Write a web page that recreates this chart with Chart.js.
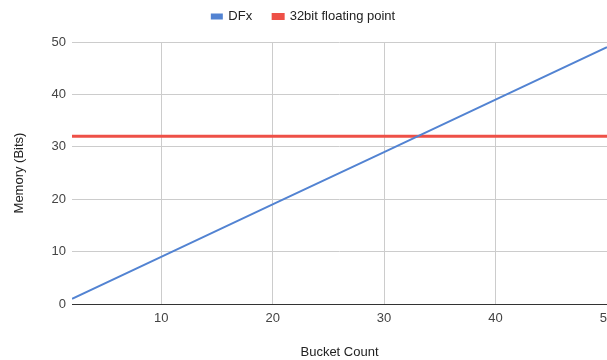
<!DOCTYPE html>
<html>
<head>
<meta charset="utf-8">
<script src="https://cdn.jsdelivr.net/npm/chart.js@4/dist/chart.umd.min.js"></script>
<style>
    html, body {margin: 0; padding: 0; background: #fff; overflow: hidden;}
    .chartContainer {width: 607px; height: 360px;}
</style>
</head>
<body>
<div class="chartContainer"><canvas id="chart"></canvas></div>
<script>
const bucketCounts = [2, 10, 20, 30, 40, 50];
const dfxMemory = [1, 9, 19, 29, 39, 49];
const floatMemory = [32, 32, 32, 32, 32, 32];
const xTicks = [10, 20, 30, 40, 50];
const yTicks = [0, 10, 20, 30, 40, 50];

const toPoints = (values) => bucketCounts.map((x, i) => ({x: x, y: values[i]}));

Chart.defaults.font.family = "'Liberation Sans', Arial, sans-serif";
Chart.defaults.font.size = 13;

// legend needs wide gaps between items but little room above them,
// so grow its box a bit after it measured itself
const legendSpace = {
    id: 'legendSpace',
    beforeLayout(chart) {
        const legend = chart.legend;
        if (!legend || legend._patched) return;
        const fit = legend.fit;
        legend.fit = function () {
            fit.call(this);
            this.height += 9;
        };
        legend._patched = true;
    },
};

const data = {
    datasets: [
        {
            label: 'DFx',
            data: toPoints(dfxMemory),
            borderColor: '#5283d2',
            backgroundColor: '#5283d2',
            borderWidth: 2,
            pointRadius: 0,
        },
        {
            label: '32bit floating point',
            data: toPoints(floatMemory),
            borderColor: '#ee5047',
            backgroundColor: '#ee5047',
            borderWidth: 3,
            pointRadius: 0,
        },
    ],
};

const options = {
    responsive: false,
    animation: false,
    layout: {padding: {top: -11, left: 0, right: 0, bottom: 0}},
    plugins: {
        legend: {
            labels: {
                boxWidth: 10,
                boxHeight: 4,
                padding: 21,
                color: '#222',
            },
        },
        tooltip: {enabled: false},
    },
    scales: {
        x: {
            type: 'linear',
            min: 2,
            max: 50,
            afterBuildTicks: (scale) => {
                scale.ticks = xTicks.map(v => ({value: v}));
            },
            afterFit: (scale) => {
                scale.paddingRight = 0;
                scale.height = 56;
            },
            grid: {color: '#cccccc', drawTicks: false},
            border: {color: '#333333', width: 1},
            ticks: {color: '#444', padding: 7, maxRotation: 0},
            title: {display: true, text: 'Bucket Count', color: '#222', padding: {top: 0, bottom: 0}},
        },
        y: {
            min: 0,
            max: 50,
            afterBuildTicks: (scale) => {
                scale.ticks = yTicks.map(v => ({value: v}));
            },
            afterFit: (scale) => {
                scale.width = 72;
            },
            grid: {color: '#cccccc', drawTicks: false},
            border: {display: false},
            ticks: {color: '#444', padding: 6},
            title: {display: true, text: 'Memory (Bits)', color: '#222', padding: {top: 12, bottom: 0}},
        },
    },
};

const canvas = document.getElementById('chart');
canvas.width = 607;
canvas.height = 360;
new Chart(canvas.getContext('2d'), {type: 'line', data: data, options: options, plugins: [legendSpace]});
</script>
</body>
</html>
